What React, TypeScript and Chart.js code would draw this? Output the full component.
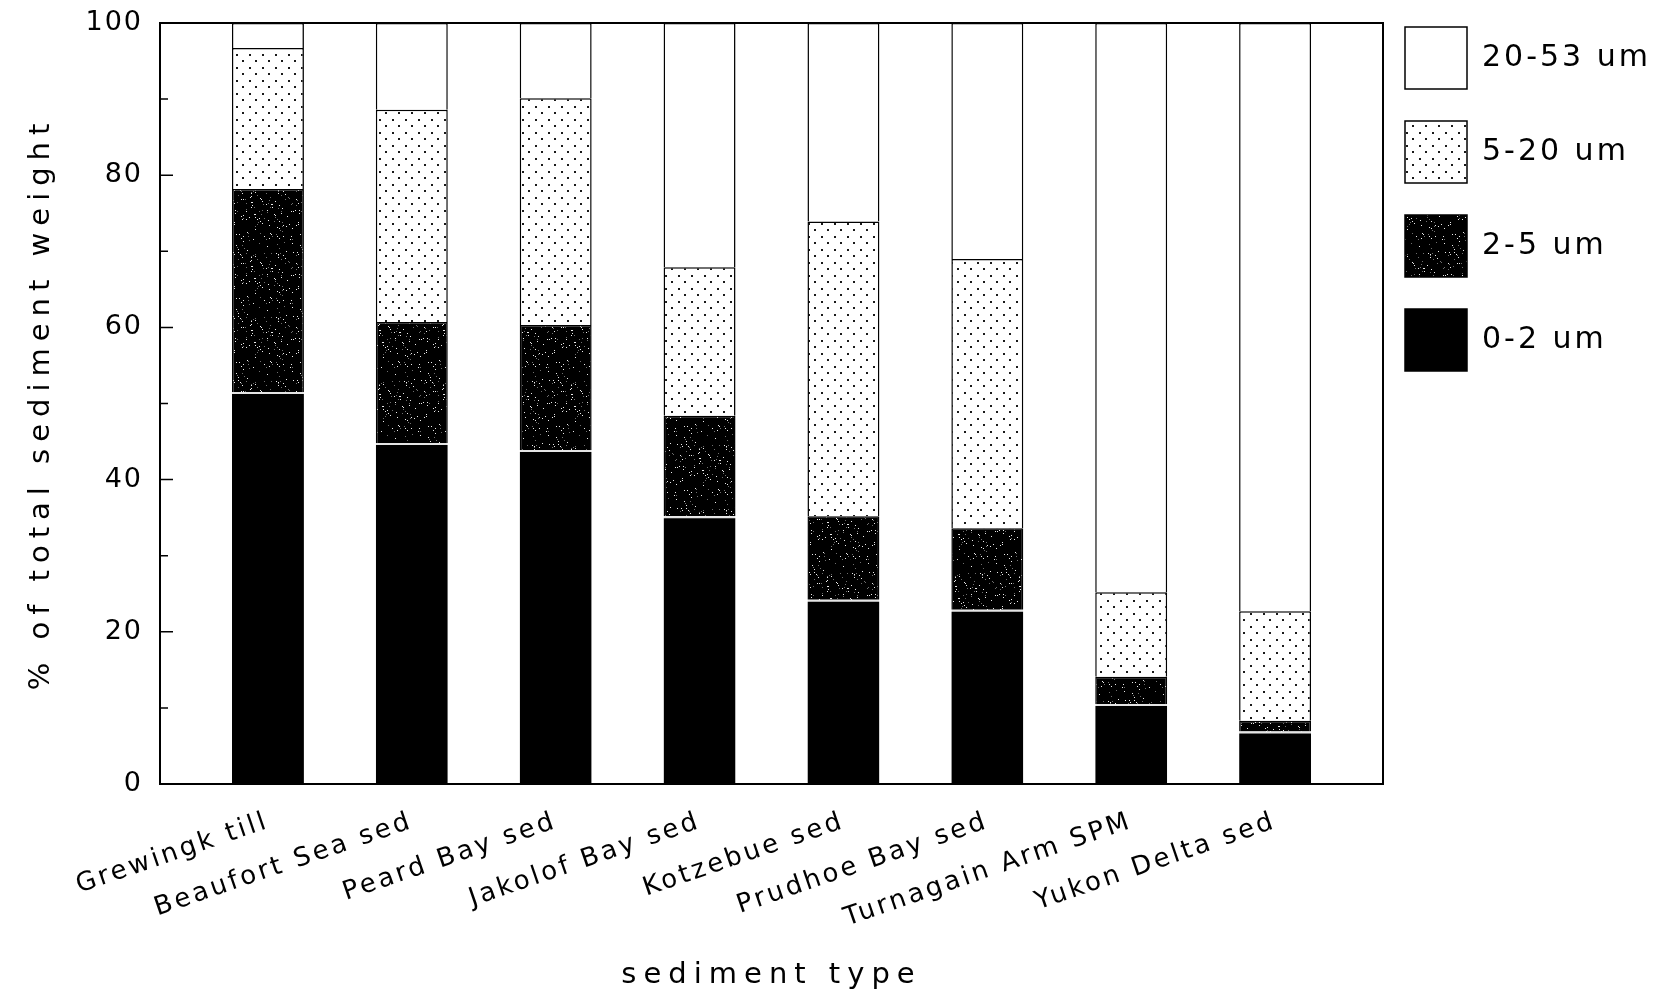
import React, { useEffect, useRef } from 'react';
import { Chart, registerables } from 'chart.js';

Chart.register(...registerables);

// ---------------- data ----------------
const categories = [
  'Grewingk till',
  'Beaufort Sea sed',
  'Peard Bay sed',
  'Jakolof Bay sed',
  'Kotzebue sed',
  'Prudhoe Bay sed',
  'Turnagain Arm SPM',
  'Yukon Delta sed',
];
const seriesLabels = ['0-2 um', '2-5 um', '5-20 um', '20-53 um'];
const frac0to2 = [51.5, 44.8, 43.9, 35.2, 24.2, 22.9, 10.5, 6.9];
const frac2to5 = [26.7, 15.9, 16.4, 13.2, 11.0, 10.7, 3.6, 1.4];
const frac5to20 = [18.5, 27.9, 29.8, 19.5, 38.7, 35.4, 11.1, 14.4];
const frac20to53 = [3.3, 11.4, 9.9, 32.1, 26.1, 31.0, 74.8, 77.3];
const yTickValues = [0, 20, 40, 60, 80, 100];
const yTitle = '% of total sediment weight';
const xTitle = 'sediment type';

const FONT = '"DejaVu Sans", sans-serif';

// letter spacing per scale part (the original uses a wide plotter font)
const spacing: Record<string, { ticks: string; title: string }> = {
  x: { ticks: '3px', title: '7px' },
  y: { ticks: '2px', title: '7px' },
};

function makeDotPattern(ctx: CanvasRenderingContext2D) {
  const c = document.createElement('canvas');
  c.width = 13;
  c.height = 13;
  const g = c.getContext('2d')!;
  g.fillStyle = '#fff';
  g.fillRect(0, 0, 13, 13);
  g.fillStyle = '#1a1a1a';
  g.fillRect(2, 2, 2, 2);
  g.fillRect(8, 8, 2, 2);
  return ctx.createPattern(c, 'repeat')!;
}

function makeSpecklePattern(ctx: CanvasRenderingContext2D) {
  const size = 64;
  const c = document.createElement('canvas');
  c.width = size;
  c.height = size;
  const g = c.getContext('2d')!;
  const img = g.createImageData(size, size);
  let seed = 12345;
  const rnd = () => {
    seed = (seed * 1103515245 + 12345) & 0x7fffffff;
    return seed / 0x7fffffff;
  };
  for (let i = 0; i < size * size; i++) {
    const r = rnd();
    const v = r < 0.02 ? 235 : r < 0.035 ? 110 : 0;
    img.data[i * 4] = v;
    img.data[i * 4 + 1] = v;
    img.data[i * 4 + 2] = v;
    img.data[i * 4 + 3] = 255;
  }
  g.putImageData(img, 0, 0);
  return ctx.createPattern(c, 'repeat')!;
}

const spacingPlugin = {
  id: 'letterSpacingPatch',
  beforeDraw(chart: any) {
    const ctx = chart.ctx;
    Object.values(chart.scales).forEach((scale: any) => {
      if (scale.__patched) return;
      const sp = spacing[scale.id];
      if (!sp) return;
      scale.__patched = true;
      const t = scale.drawTitle.bind(scale);
      const l = scale.drawLabels.bind(scale);
      scale.drawTitle = () => {
        ctx.save();
        ctx.letterSpacing = sp.title;
        t();
        ctx.restore();
      };
      scale.drawLabels = (area: any) => {
        ctx.save();
        ctx.letterSpacing = sp.ticks;
        l(area);
        ctx.restore();
      };
    });
  },
};

const framePlugin = {
  id: 'frameAndTicks',
  afterDatasetsDraw(chart: any) {
    const { ctx, chartArea } = chart;
    const y = chart.scales.y;
    ctx.save();
    ctx.strokeStyle = '#000';
    ctx.lineWidth = 2;
    ctx.strokeRect(chartArea.left, chartArea.top, chartArea.right - chartArea.left, chartArea.bottom - chartArea.top);
    ctx.lineWidth = 1.5;
    ctx.beginPath();
    for (let i = 0; i < yTickValues.length; i++) {
      const v = yTickValues[i];
      const py = y.getPixelForValue(v);
      ctx.moveTo(chartArea.left, py);
      ctx.lineTo(chartArea.left + 13, py);
      if (i < yTickValues.length - 1) {
        const pm = y.getPixelForValue((v + yTickValues[i + 1]) / 2);
        ctx.moveTo(chartArea.left, pm);
        ctx.lineTo(chartArea.left + 8, pm);
      }
    }
    ctx.stroke();
    ctx.restore();
  },
};

const legendPlugin = {
  id: 'boxLegend',
  afterDraw(chart: any) {
    const { ctx, chartArea } = chart;
    const ds = chart.data.datasets;
    const box = 62;
    const gap = 32;
    const x0 = chartArea.right + 22;
    let yy = chartArea.top + 4;
    ctx.save();
    ctx.font = `30px ${FONT}`;
    ctx.letterSpacing = '3px';
    ctx.textBaseline = 'middle';
    ctx.textAlign = 'left';
    for (let i = ds.length - 1; i >= 0; i--) {
      const d = ds[i];
      ctx.fillStyle = d.backgroundColor;
      ctx.fillRect(x0, yy, box, box);
      ctx.lineWidth = 1.5;
      ctx.strokeStyle = '#000';
      ctx.strokeRect(x0, yy, box, box);
      ctx.fillStyle = '#000';
      ctx.fillText(d.label, x0 + box + 15, yy + box / 2);
      yy += box + gap;
    }
    ctx.restore();
  },
};

export default function App() {
  const canvasRef = useRef<HTMLCanvasElement | null>(null);

  useEffect(() => {
    const canvas = canvasRef.current!;
    const ctx = canvas.getContext('2d')!;
    const dots = makeDotPattern(ctx);
    const speckle = makeSpecklePattern(ctx);
    const pos = (i: number) => i + 0.75;
    const toPoints = (arr: number[]) => arr.map((v, i) => ({ x: pos(i), y: v }));

    const chart = new Chart(canvas, {
      type: 'bar',
      data: {
        datasets: [
          {
            label: seriesLabels[0],
            data: toPoints(frac0to2),
            backgroundColor: '#000',
            borderColor: '#e4e4e4',
            borderWidth: { top: 2, left: 0, right: 0, bottom: 0 },
          },
          {
            label: seriesLabels[1],
            data: toPoints(frac2to5),
            backgroundColor: speckle,
            borderColor: '#000',
            borderWidth: 1.5,
          },
          {
            label: seriesLabels[2],
            data: toPoints(frac5to20),
            backgroundColor: dots,
            borderColor: '#000',
            borderWidth: 1.5,
          },
          {
            label: seriesLabels[3],
            data: toPoints(frac20to53),
            backgroundColor: '#fff',
            borderColor: '#000',
            borderWidth: 1.5,
          },
        ] as any,
      },
      options: {
        animation: false,
        responsive: false,
        events: [],
        layout: { padding: { top: 23, right: 275, bottom: 0, left: 0 } },
        datasets: { bar: { barPercentage: 1, categoryPercentage: 0.5 } } as any,
        plugins: { legend: { display: false }, tooltip: { enabled: false } },
        scales: {
          x: {
            type: 'linear',
            stacked: true,
            offset: false,
            min: 0,
            max: categories.length + 0.5,
            grid: { display: false, drawTicks: false },
            border: { display: false },
            afterBuildTicks: (scale: any) => {
              scale.ticks = categories.map((_, i) => ({ value: pos(i) }));
            },
            afterFit: (scale: any) => {
              scale.height = 213;
              scale.paddingLeft = 0;
              scale.paddingRight = 0;
            },
            ticks: {
              autoSkip: false,
              minRotation: 19,
              maxRotation: 19,
              padding: 22,
              color: '#000',
              font: { family: FONT, size: 26 },
              callback: (_v: any, i: number) => categories[i],
            },
            title: {
              display: true,
              text: xTitle,
              color: '#000',
              font: { family: FONT, size: 29 },
              padding: { top: 0, bottom: 4 },
            },
          } as any,
          y: {
            stacked: true,
            min: 0,
            max: 100,
            grid: { display: false, drawTicks: false },
            border: { display: false },
            afterBuildTicks: (scale: any) => {
              scale.ticks = yTickValues.map((v) => ({ value: v }));
            },
            afterFit: (scale: any) => {
              scale.width = 160;
              scale.paddingTop = 0;
              scale.paddingBottom = 0;
            },
            ticks: {
              padding: 17,
              color: '#000',
              font: { family: FONT, size: 27 },
            },
            title: {
              display: true,
              text: yTitle,
              color: '#000',
              font: { family: FONT, size: 29 },
              padding: { top: 24, bottom: 0 },
            },
          } as any,
        },
      },
      plugins: [spacingPlugin, framePlugin, legendPlugin],
    });
    return () => chart.destroy();
  }, []);

  return (
    <div style={{ position: 'absolute', left: 0, top: 0, width: 1658, height: 997, background: '#fff' }}>
      <canvas ref={canvasRef} width={1658} height={997} style={{ display: 'block' }} />
    </div>
  );
}
